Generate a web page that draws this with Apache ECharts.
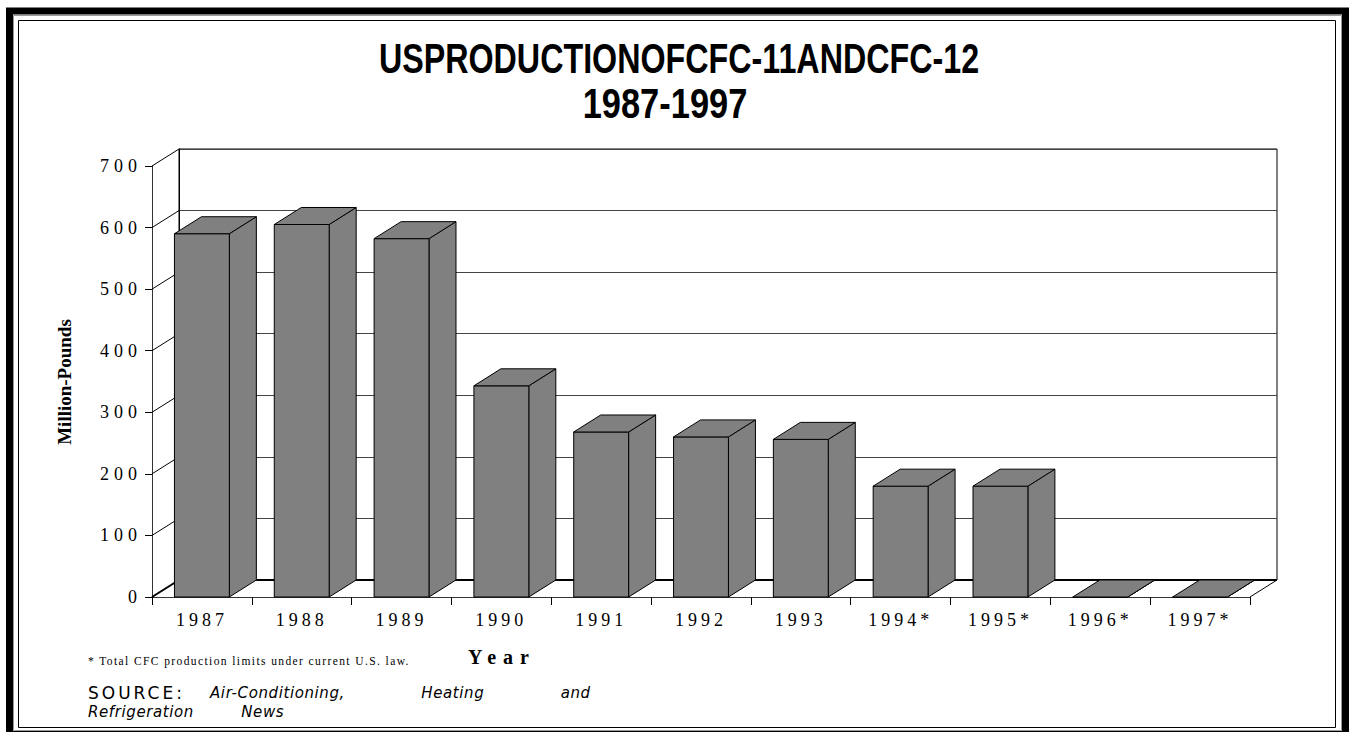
<!DOCTYPE html>
<html>
<head>
<meta charset="utf-8">
<script src="https://cdn.jsdelivr.net/npm/echarts@6/dist/echarts.min.js"></script>
<style>
  html, body { margin: 0; padding: 0; background: #fff; }
  #chart { width: 1349px; height: 732px; }
  /* tracking for the different text groups, keyed on their font stacks */
  #chart svg text[style*="Times New Roman"] { letter-spacing: 5px; }
  #chart svg text[style*="Thorndale"] { letter-spacing: 4px; }
  #chart svg text[style*="Tinos"] { letter-spacing: 1.4px; }
  #chart svg text[style*="Nimbus Roman"] { letter-spacing: 7px; }
  #chart svg text[style*="Verdana"] { letter-spacing: 3px; }
  #chart svg text[style*="Tahoma"] { letter-spacing: 0.6px; word-spacing: 71px; }
  #chart svg text[style*="Geneva"] { letter-spacing: 0.6px; word-spacing: 42px; }
</style>
</head>
<body>
<div id="chart"></div>
<script>
// Annual US production of CFC-11 + CFC-12, million pounds
const categories = ['1987', '1988', '1989', '1990', '1991', '1992', '1993', '1994*', '1995*', '1996*', '1997*'];
const production = [590, 605, 582, 343, 268, 260, 256, 180, 180, 0, 0];

// value axis
const yMin = 0;
const yMax = 700;
const yStep = 100;
const gridValues = [0, 100, 200, 300, 400, 500, 600, 700];

// texts
const titleLines = ['USPRODUCTIONOFCFC-11ANDCFC-12', '1987-1997'];
const yAxisTitle = 'Million-Pounds';
const xAxisTitle = 'Year';
const footnote = '* Total CFC production limits under current U.S. law.';
const sourceLabel = 'SOURCE:';
const sourceLine1 = 'Air-Conditioning, Heating and';
const sourceLine2 = 'Refrigeration News';

// depth of the pseudo-3D box (back plane offset)
const DX = 27;
const DY = 17;

const SERIF_YTICK = '"Liberation Serif", "Times New Roman", serif';
const SERIF_XTICK = '"Liberation Serif", Thorndale, serif';
const SERIF_NOTE = '"Liberation Serif", Tinos, serif';
const SERIF_NAME = '"Liberation Serif", "Nimbus Roman", serif';

const chart = echarts.init(document.getElementById('chart'), null, { renderer: 'svg' });

// left wall grid lines, floor edges
function renderWalls(params, api) {
  const v = api.value(1);
  const p = api.coord([categories[0], v]);
  const band = api.size([1, 0])[0];
  const xl = p[0] - band / 2;
  const children = [{
    type: 'line',
    shape: { x1: xl, y1: p[1], x2: xl + DX, y2: p[1] - DY },
    style: { stroke: '#000', lineWidth: v === yMin ? 2 : 1 }
  }];
  if (v === yMin) {
    const xr = api.coord([categories[categories.length - 1], v])[0] + band / 2;
    children.push({
      type: 'line',
      shape: { x1: xl + DX, y1: p[1] - DY, x2: xr + DX, y2: p[1] - DY },
      style: { stroke: '#000', lineWidth: 2 }
    });
    children.push({
      type: 'line',
      shape: { x1: xr, y1: p[1], x2: xr + DX, y2: p[1] - DY },
      style: { stroke: '#000', lineWidth: 1 }
    });
  }
  return { type: 'group', children: children };
}

// a shaded column: front face, right side, top
function renderBar(params, api) {
  const i = api.value(0);
  const v = api.value(1);
  const top = api.coord([i, v]);
  const base = api.coord([i, yMin]);
  const w = api.size([1, 0])[0] * 0.55;
  const x0 = top[0] - w / 2;
  const x1 = top[0] + w / 2;
  const st = { fill: '#808080', stroke: '#000', lineWidth: 1 };
  return {
    type: 'group',
    children: [
      { type: 'polygon', shape: { points: [[x1, top[1]], [x1 + DX, top[1] - DY], [x1 + DX, base[1] - DY], [x1, base[1]]] }, style: st },
      { type: 'rect', shape: { x: x0, y: top[1], width: w, height: base[1] - top[1] }, style: st },
      { type: 'polygon', shape: { points: [[x0, top[1]], [x1, top[1]], [x1 + DX, top[1] - DY], [x0 + DX, top[1] - DY]] }, style: st }
    ]
  };
}

const option = {
  animation: false,
  backgroundColor: '#fff',
  grid: [
    { left: 152, top: 166, width: 1098, height: 431 },
    { left: 152 + DX, top: 166 - DY, width: 1098, height: 431, show: true, borderColor: '#000', borderWidth: 1, backgroundColor: 'transparent' }
  ],
  xAxis: [
    {
      type: 'category', gridIndex: 0, data: categories, boundaryGap: true,
      axisLine: { show: true, lineStyle: { color: '#333', width: 1 } },
      axisTick: { show: true, length: 8, interval: 0, alignWithLabel: false, lineStyle: { color: '#000' } },
      axisLabel: { interval: 0, margin: 14, color: '#000', fontSize: 18, fontFamily: SERIF_XTICK },
      splitLine: { show: false }
    },
    {
      type: 'category', gridIndex: 1, data: categories, boundaryGap: true, show: false
    }
  ],
  yAxis: [
    {
      type: 'value', gridIndex: 0, min: yMin, max: yMax, interval: yStep,
      axisLine: { show: true, lineStyle: { color: '#333', width: 1 } },
      axisTick: { show: true, length: 7, lineStyle: { color: '#000' } },
      axisLabel: { margin: 10, color: '#000', fontSize: 18, fontFamily: SERIF_YTICK },
      splitLine: { show: false }
    },
    {
      type: 'value', gridIndex: 1, min: yMin, max: yMax, interval: yStep,
      axisLine: { show: true, lineStyle: { color: '#000', width: 1 } },
      axisTick: { show: false },
      axisLabel: { show: false },
      splitLine: { show: true, lineStyle: { color: '#444', width: 1 } }
    }
  ],
  series: [
    {
      type: 'custom', xAxisIndex: 0, yAxisIndex: 0, z: 3,
      renderItem: renderWalls,
      data: gridValues.map(function (v) { return [categories[0], v]; }),
      silent: true
    },
    {
      type: 'custom', xAxisIndex: 0, yAxisIndex: 0, z: 5,
      renderItem: renderBar,
      data: production.map(function (v, i) { return [categories[i], v]; }),
      silent: true
    }
  ],
  graphic: [
    // page frame
    { type: 'rect', silent: true, z: 100, shape: { x: 9.5, y: 11, width: 1336, height: 723.5 }, style: { fill: 'none', stroke: '#000', lineWidth: 7 } },
    { type: 'rect', silent: true, z: 100, shape: { x: 13.5, y: 15.5, width: 1328, height: 715 }, style: { fill: 'none', stroke: '#9a9a9a', lineWidth: 1 } },
    { type: 'rect', silent: true, z: 100, shape: { x: 18.5, y: 20.5, width: 1317, height: 707 }, style: { fill: 'none', stroke: '#000', lineWidth: 1 } },
    // title
    { type: 'text', x: 679, y: 58, scaleX: 0.768, style: { text: titleLines[0], fontFamily: '"Liberation Sans", Arial, sans-serif', fontWeight: 'bold', fontSize: 42, fill: '#000', textAlign: 'center', verticalAlign: 'middle' } },
    { type: 'text', x: 665, y: 103, scaleX: 0.82, style: { text: titleLines[1], fontFamily: '"Liberation Sans", Arial, sans-serif', fontWeight: 'bold', fontSize: 42, fill: '#000', textAlign: 'center', verticalAlign: 'middle' } },
    // axis titles
    { type: 'text', x: 64, y: 382, rotation: Math.PI / 2, style: { text: yAxisTitle, fontFamily: '"Liberation Serif", serif', fontWeight: 'bold', fontSize: 19, fill: '#000', textAlign: 'center', verticalAlign: 'middle' } },
    { type: 'text', x: 502, y: 657, style: { text: xAxisTitle, fontFamily: SERIF_NAME, fontWeight: 'bold', fontSize: 20, fill: '#000', textAlign: 'center', verticalAlign: 'middle' } },
    // notes
    { type: 'text', x: 88, y: 661, style: { text: footnote, fontFamily: SERIF_NOTE, fontSize: 11.5, fill: '#000', textAlign: 'left', verticalAlign: 'middle' } },
    { type: 'text', x: 88, y: 693, style: { text: sourceLabel, fontFamily: '"DejaVu Sans", Verdana, sans-serif', fontSize: 17, fill: '#000', textAlign: 'left', verticalAlign: 'middle' } },
    { type: 'text', x: 210, y: 693, style: { text: sourceLine1, fontFamily: '"DejaVu Sans", Tahoma, sans-serif', fontStyle: 'italic', fontSize: 15, fill: '#000', textAlign: 'left', verticalAlign: 'middle' } },
    { type: 'text', x: 88, y: 712, style: { text: sourceLine2, fontFamily: '"DejaVu Sans", Geneva, sans-serif', fontStyle: 'italic', fontSize: 15, fill: '#000', textAlign: 'left', verticalAlign: 'middle' } }
  ]
};

chart.setOption(option);
</script>
</body>
</html>
